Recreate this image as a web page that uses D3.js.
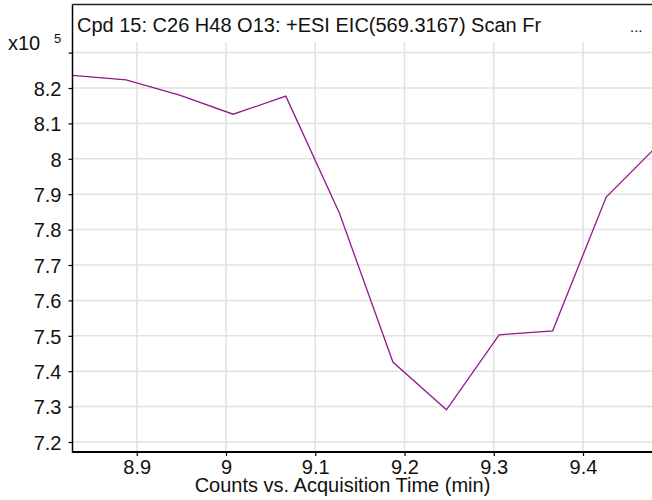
<!DOCTYPE html>
<html>
<head>
<meta charset="utf-8">
<script src="https://cdn.jsdelivr.net/npm/d3@7"></script>
<style>
  html, body { margin: 0; padding: 0; background: #fff; }
  svg { display: block; font-family: "Liberation Sans", Arial, sans-serif; }
</style>
</head>
<body>
<svg id="chart" width="652" height="500"></svg>
<script>
// Data (acquisition time in min, counts)
const times = [8.828, 8.888, 8.948, 9.008, 9.067, 9.127, 9.187, 9.247, 9.306, 9.366, 9.426, 9.485];
const counts = [823600, 822300, 818000, 812600, 817700, 784700, 742600, 729100, 750300, 751400, 789200, 804100];
const xTicks = [8.9, 9.0, 9.1, 9.2, 9.3, 9.4];
const xTickLabels = ["8.9", "9", "9.1", "9.2", "9.3", "9.4"];
const yTicks = [720000, 730000, 740000, 750000, 760000, 770000, 780000, 790000, 800000, 810000, 820000, 830000];
const yTickLabels = ["7.2", "7.3", "7.4", "7.5", "7.6", "7.7", "7.8", "7.9", "8", "8.1", "8.2", ""];
const title = "Cpd 15: C26 H48 O13: +ESI EIC(569.3167) Scan Fr";
const xLabel = "Counts vs. Acquisition Time (min)";

const svg = d3.select("#chart");
const L = 72.5, R = 652, T = 42, B = 452, frameTop = 4.5;
const FS = 20;

const x = d3.scaleLinear().domain([8.828, 9.4773]).range([L, R]);
const y = d3.scaleLinear().domain([717180, 833000]).range([B, T]);

svg.append("defs").append("clipPath").attr("id", "clip")
  .append("rect").attr("x", L).attr("y", T).attr("width", R - L).attr("height", B - T);

// gridlines
const grid = svg.append("g").attr("stroke", "#e2e2e2").attr("stroke-width", 1.5);
grid.selectAll(".vg").data(xTicks).join("line")
  .attr("x1", d => x(d)).attr("x2", d => x(d)).attr("y1", T).attr("y2", B);
grid.selectAll(".hg").data(yTicks).join("line")
  .attr("x1", L).attr("x2", R).attr("y1", d => y(d)).attr("y2", d => y(d));

// line
const line = d3.line().x((d, i) => x(times[i])).y(d => y(d));
svg.append("path").datum(counts)
  .attr("clip-path", "url(#clip)")
  .attr("fill", "none").attr("stroke", "#8e1a8e").attr("stroke-width", 1.3)
  .attr("d", line);

// axes
const xAxis = d3.axisBottom(x).tickValues(xTicks).tickSize(4).tickSizeOuter(0)
  .tickFormat((d, i) => xTickLabels[i]);
const gx = svg.append("g").attr("transform", `translate(0,${B})`).call(xAxis);
gx.select(".domain").remove();
gx.selectAll(".tick line").attr("stroke", "#000").attr("stroke-width", 1.2);
gx.selectAll(".tick text").attr("font-size", FS).attr("fill", "#111").attr("y", 21.5).attr("dy", 0)
  .attr("font-family", "Liberation Sans, Arial, sans-serif");

const yAxis = d3.axisLeft(y).tickValues(yTicks).tickSize(4).tickSizeOuter(0)
  .tickFormat((d, i) => yTickLabels[i]);
const gy = svg.append("g").attr("transform", `translate(${L},0)`).call(yAxis);
gy.select(".domain").remove();
gy.selectAll(".tick line").attr("stroke", "#000").attr("stroke-width", 1.2);
gy.selectAll(".tick text").attr("font-size", FS).attr("fill", "#111").attr("x", -11).attr("dy", "0.36em")
  .attr("font-family", "Liberation Sans, Arial, sans-serif");

// frame lines
svg.append("line").attr("x1", L).attr("x2", L).attr("y1", frameTop).attr("y2", B + 1)
  .attr("stroke", "#000").attr("stroke-width", 1.5);
svg.append("line").attr("x1", L).attr("x2", R).attr("y1", B).attr("y2", B)
  .attr("stroke", "#000").attr("stroke-width", 2);
svg.append("line").attr("x1", L).attr("x2", R).attr("y1", frameTop).attr("y2", frameTop)
  .attr("stroke", "#222").attr("stroke-width", 1.5);

// title
svg.append("text").attr("x", 77).attr("y", 32).attr("font-size", FS).attr("fill", "#111").text(title);
svg.append("text").attr("x", 630).attr("y", 32).attr("font-size", 15).attr("fill", "#111").text("...");

// exponent label
svg.append("text").attr("x", 8).attr("y", 50).attr("font-size", FS).attr("fill", "#111").text("x10");
svg.append("text").attr("x", 54).attr("y", 43).attr("font-size", 13).attr("fill", "#111").text("5");

// x label
svg.append("text").attr("x", 342.5).attr("y", 492).attr("text-anchor", "middle")
  .attr("font-size", FS).attr("fill", "#111").text(xLabel);
</script>
</body>
</html>
